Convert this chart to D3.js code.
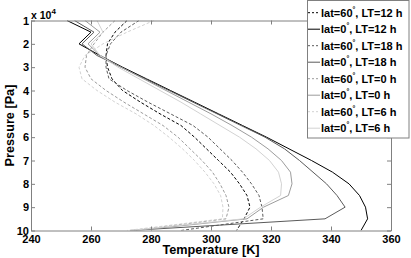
<!DOCTYPE html>
<html><head><meta charset="utf-8">
<script src="https://cdn.jsdelivr.net/npm/d3@7"></script>
<style>
html,body{margin:0;padding:0;background:#fff;}
svg{display:block;font-family:"Liberation Sans",Arial,sans-serif;font-weight:bold;}
</style></head>
<body>
<svg id="c" width="411" height="258"></svg>
<script>
// Pressure levels (x 10^4 Pa)
const pressure = [1,1.5,2,2.5,3,3.5,4,4.5,5,5.5,6,6.5,7,7.5,8,8.5,9,9.5,10];
// Temperatures [K]
const lat60_LT12 = [272,268,265.5,265,265.5,267,270.5,276.5,283,290,294.5,298.5,302.5,306.5,309.5,312,313,311,308.5];
const lat0_LT12  = [252,260,256,263,270.5,278.5,286.5,294.5,302.5,310.5,318.5,326,333.5,340.5,346,349.5,351.5,352.2,350];
const lat60_LT18 = [276,270,266.5,265,265,266,272,279,286.5,294,299,303,307,310.5,313.5,316,317,317.4,290];
const lat0_LT18  = [254.5,261,257,262,270,278,286,294,302,310,318,324.5,329.5,334,338.5,342,344.7,338,273];
const lat60_LT0  = [268,264,261,258.5,258,260,265,271,277.5,284,289,293,297,300.5,303,305,306,305,274];
const lat0_LT0   = [258,263,259,263,270,277.5,285,292.5,300,307,313.5,319,323.5,326.5,327,325.8,317.5,312,275];
const lat60_LT6  = [281,272,264,258,256,257,262,268,275,281,286,290.5,294.5,298,301,303.2,304,303.8,272];
const lat0_LT6   = [262,264,260,263,269,276,283,290,296.5,303,309.5,315,319.5,322.5,323.5,323.2,316.5,310.8,273];

const seriesNames = ["lat=60|, LT=12 h","lat=0|, LT=12 h","lat=60|, LT=18 h","lat=0|, LT=18 h",
                     "lat=60|, LT=0 h","lat=0|, LT=0 h","lat=60|, LT=6 h","lat=0|, LT=6 h"];
const seriesValues = [lat60_LT12,lat0_LT12,lat60_LT18,lat0_LT18,lat60_LT0,lat0_LT0,lat60_LT6,lat0_LT6];
const xTicks = [240,260,280,300,320,340,360];
const yTicks = [1,2,3,4,5,6,7,8,9,10];

const colors = ["#000000","#000000","#5a5a5a","#5a5a5a","#9c9c9c","#9c9c9c","#d2d2d2","#d2d2d2"];
const dashed = [true,false,true,false,true,false,true,false];

const svg = d3.select("#c");
const L=31, R=391, T=20.5, B=230.5;
const x = d3.scaleLinear().domain([240,360]).range([L,R]);
const y = d3.scaleLinear().domain([1,10]).range([T,B]);
const axisColor = "#808080";

svg.append("defs").append("clipPath").attr("id","clip")
  .append("rect").attr("x",L).attr("y",T).attr("width",R-L).attr("height",B-T);

const line = d3.line().x(d=>x(d[0])).y(d=>y(d[1]));
const g = svg.append("g").attr("clip-path","url(#clip)");
seriesValues.forEach((vals,i)=>{
  g.append("path")
    .datum(vals.map((v,k)=>[v,pressure[k]]))
    .attr("d",line).attr("fill","none")
    .attr("stroke",colors[i]).attr("stroke-width",1)
    .attr("stroke-dasharray",dashed[i]?"3,2":null);
});

function styleAxis(sel){
  sel.selectAll(".domain").attr("stroke",axisColor);
  sel.selectAll(".tick line").attr("stroke",axisColor);
  sel.selectAll(".tick text").attr("fill","#000").attr("font-size","11px")
     .attr("font-family","'Liberation Sans',Arial,sans-serif").attr("font-weight","bold");
}
const xb = svg.append("g").attr("transform",`translate(0,${B})`)
  .call(d3.axisBottom(x).tickValues(xTicks).tickSizeInner(-4).tickSizeOuter(0).tickPadding(4.5));
styleAxis(xb);
const xt = svg.append("g").attr("transform",`translate(0,${T})`)
  .call(d3.axisTop(x).tickValues(xTicks).tickSizeInner(-4).tickSizeOuter(0).tickFormat(""));
styleAxis(xt);
const yl = svg.append("g").attr("transform",`translate(${L},0)`)
  .call(d3.axisLeft(y).tickValues(yTicks).tickSizeInner(-4).tickSizeOuter(0).tickPadding(2));
styleAxis(yl);
const yr = svg.append("g").attr("transform",`translate(${R},0)`)
  .call(d3.axisRight(y).tickValues(yTicks).tickSizeInner(-4).tickSizeOuter(0).tickFormat(""));
styleAxis(yr);

// exponent label
const ex = svg.append("text").attr("x",31).attr("y",18.5).attr("font-size","10.5px");
ex.append("tspan").text("x 10");
ex.append("tspan").attr("font-size","8px").attr("dy",-5).text("4");

// axis titles
svg.append("text").attr("x",211).attr("y",254).attr("text-anchor","middle")
  .attr("font-size","12.7px").text("Temperature [K]");
svg.append("text").attr("transform","translate(14,125.5) rotate(-90)").attr("text-anchor","middle")
  .attr("font-size","12.7px").text("Pressure [Pa]");

// legend
const lg = svg.append("g");
lg.append("rect").attr("x",307.5).attr("y",0.5).attr("width",101.5).attr("height",137.5)
  .attr("fill","#fff").attr("stroke",axisColor);
seriesNames.forEach((nm,i)=>{
  const cy = 12.7 + i*16.5;
  lg.append("line").attr("x1",308).attr("x2",320).attr("y1",cy).attr("y2",cy)
    .attr("stroke",colors[i]).attr("stroke-width",1)
    .attr("stroke-dasharray",dashed[i]?"2,2":null);
  const parts = nm.split("|");
  const t = lg.append("text").attr("x",321).attr("y",cy+4).attr("font-size","11px");
  t.append("tspan").text(parts[0]);
  t.append("tspan").attr("font-size","7px").attr("dy",-5).text("\u00B0");
  t.append("tspan").attr("dy",5).text(parts[1]);
});
</script>
</body></html>
